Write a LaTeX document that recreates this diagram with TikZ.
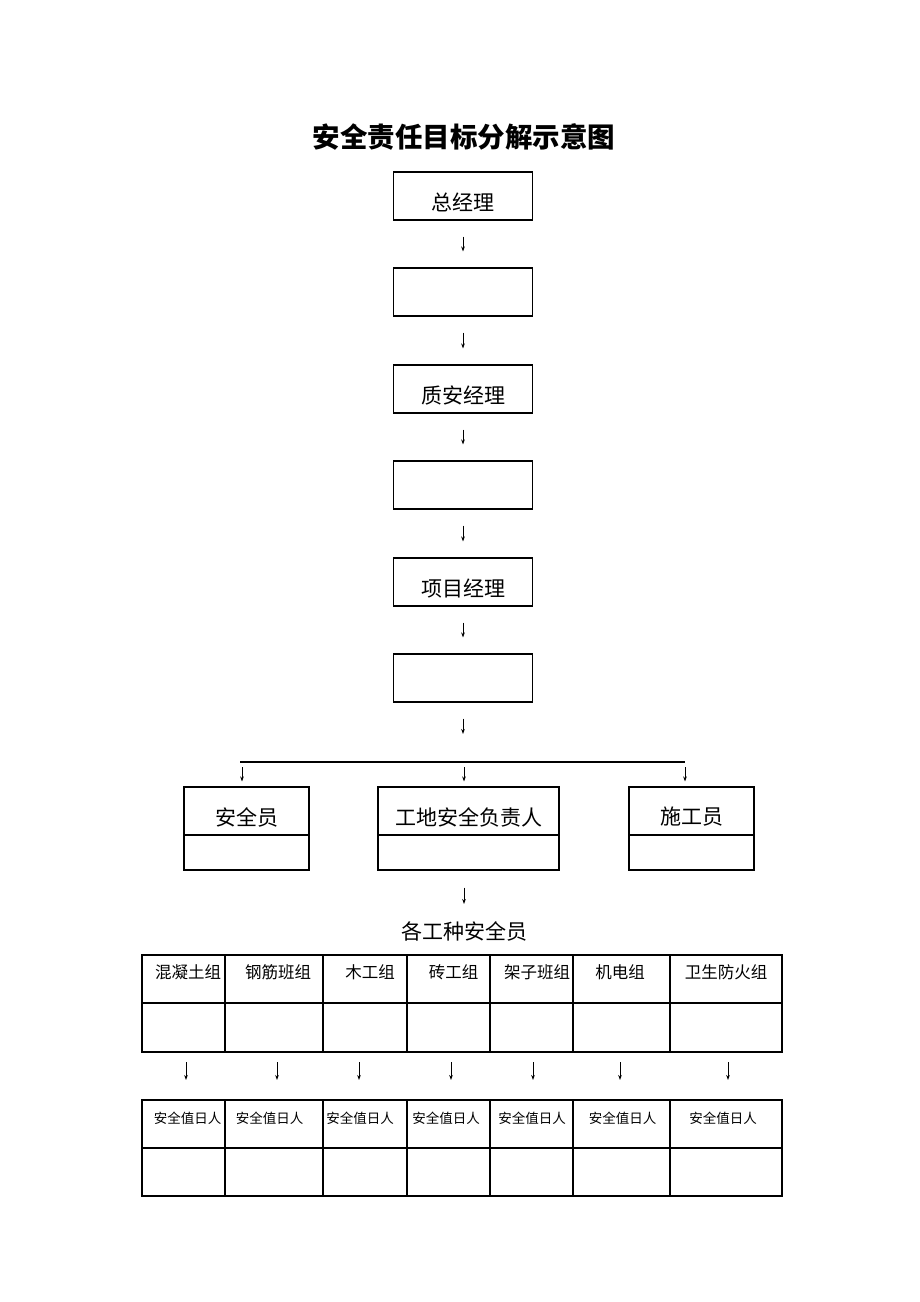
\documentclass[tikz,border=0pt]{standalone}
\usepackage{fontspec}
\setmainfont{Liberation Serif}
\newfontfamily\cjk{Noto Sans CJK SC}
\usetikzlibrary{arrows.meta,calc}
\begin{document}
\begin{tikzpicture}[x=1pt,y=-1pt,
  colbox/.style={draw,line width=1.1pt,minimum width=139pt,minimum height=48pt,inner sep=0pt},
  midbox/.style={draw,line width=1.1pt,minimum height=83pt,inner sep=0pt},
  arr/.style={-{Stealth[length=5pt,width=3.6pt]},line width=0.8pt},
  lbl/.style={font=\cjk\fontsize{21}{21}\selectfont,inner sep=0pt},
  hdr/.style={font=\cjk\fontsize{16.5}{16.5}\selectfont,inner sep=0pt},
  sml/.style={font=\cjk\fontsize{13.5}{13.5}\selectfont,inner sep=0pt},
  grid/.style={line width=1.1pt},
]
\useasboundingbox (0,0) rectangle (920,1302);
\fill[white] (0,0) rectangle (920,1302);

% title
\node[font=\cjk\bfseries\fontsize{27.5}{27.5}\selectfont,inner sep=0pt] (title) at (464,137) {安全责任目标分解示意图};

% column of boxes
\node[colbox] (b1) at (463,196) {};
\node[colbox] (b2) at (463,292) {};
\node[colbox] (b3) at (463,389) {};
\node[colbox] (b4) at (463,485) {};
\node[colbox] (b5) at (463,582) {};
\node[colbox] (b6) at (463,678) {};
\node[lbl] (t1) at (463,202) {总经理};
\node[lbl] (t3) at (463,395) {质安经理};
\node[lbl] (t5) at (463,588) {项目经理};

\foreach \a/\b in {b1/b2,b2/b3,b3/b4,b4/b5,b5/b6}
  \draw[arr,shorten <=16pt,shorten >=16pt] (\a.south) -- (\b.north);

% branch
\coordinate (hl) at (240,762);
\coordinate (hr) at (685,762);
\coordinate (p1) at (242,762);
\coordinate (p2) at (464,762);
\coordinate (p3) at (685,762);
\draw[line width=1.1pt] (hl) -- (hr);
\draw[arr,shorten <=16pt,shorten >=28pt] (b6.south) -- (b6.south |- p2);

\node[midbox,minimum width=125pt] (m1) at (246.5,828.5) {};
\node[midbox,minimum width=181pt] (m2) at (468.5,828.5) {};
\node[midbox,minimum width=125pt] (m3) at (691.5,828.5) {};
\foreach \m in {m1,m2,m3}
  \draw[line width=1.1pt] ($(\m.west)+(0,6.5)$) -- ($(\m.east)+(0,6.5)$);
\node[lbl] (l1) at (246.5,817) {安全员};
\node[lbl] (l2) at (468.5,817) {工地安全负责人};
\node[lbl] (l3) at (691.5,817) {施工员};

\draw[arr,shorten <=5pt,shorten >=5pt] (p1) -- (p1 |- m1.north);
\draw[arr,shorten <=5pt,shorten >=5pt] (p2) -- (p2 |- m2.north);
\draw[arr,shorten <=5pt,shorten >=5pt] (p3) -- (p3 |- m3.north);

% trades label
\node[lbl] (gz) at (464,931) {各工种安全员};
\draw[arr,shorten <=17pt,shorten >=17pt] (m2.south -| gz.north) -- (gz.north);

% table 1
\draw[grid] (142,955) rectangle (782,1052);
\draw[grid] (142,1003) -- (782,1003);
\foreach \x in {225,323,407,490,573,670}
  \draw[grid] (\x,955) -- (\x,1052);
\node[hdr] (h1) at (188,972) {混凝土组};
\node[hdr] (h2) at (278,972) {钢筋班组};
\node[hdr] (h3) at (370,972) {木工组};
\node[hdr] (h4) at (453.5,972) {砖工组};
\node[hdr] (h5) at (537,972) {架子班组};
\node[hdr] (h6) at (620,972) {机电组};
\node[hdr] (h7) at (726,972) {卫生防火组};

% table 2
\draw[grid] (142,1100) rectangle (782,1196);
\draw[grid] (142,1148) -- (782,1148);
\foreach \x in {225,323,407,490,573,670}
  \draw[grid] (\x,1100) -- (\x,1196);
\foreach \i/\x in {1/187.5,2/269.5,3/360,4/446,5/532,6/622.5,7/723}
  \node[sml] (s\i) at (\x,1118) {安全值日人};

% arrows between tables
\foreach \i/\x in {1/186,2/277,3/359,4/451,5/533,6/620,7/728}{
  \coordinate (ua\i) at (\x,1052);
  \coordinate (da\i) at (\x,1100);
  \draw[arr,shorten <=10pt,shorten >=20pt] (ua\i) -- (da\i);
}
\end{tikzpicture}
\end{document}
